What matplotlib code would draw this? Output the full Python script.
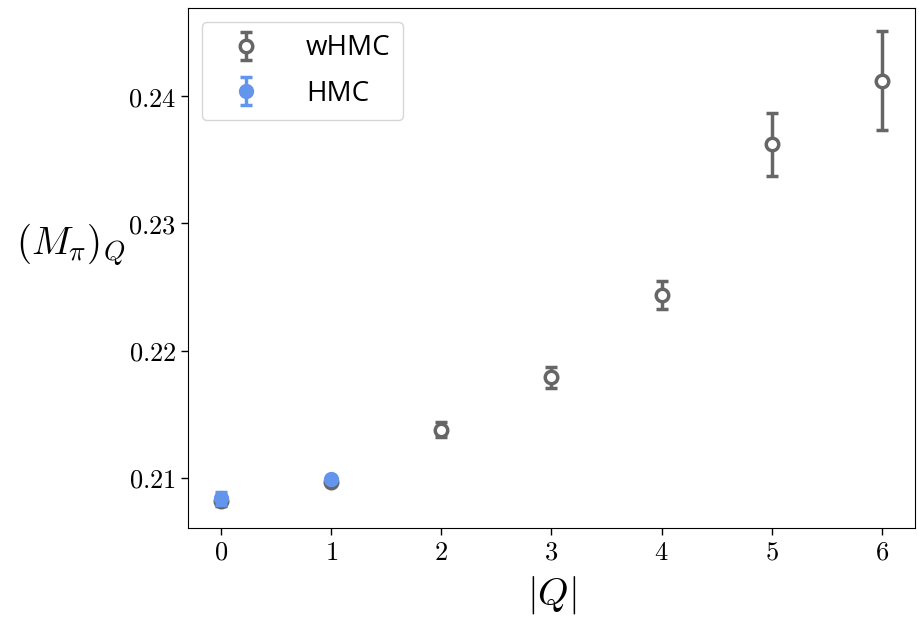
import matplotlib
matplotlib.use("Agg")
import matplotlib.pyplot as plt

plt.rcParams["mathtext.fontset"] = "cm"

# Topological charge sectors and pion mass per sector
q_whmc = [0, 1, 2, 3, 4, 5, 6]
m_whmc = [0.2082, 0.2097, 0.2138, 0.2179, 0.2244, 0.2362, 0.2412]
e_whmc = [0.0004, 0.0002, 0.0006, 0.0008, 0.0011, 0.0025, 0.0039]

q_hmc = [0, 1]
m_hmc = [0.2084, 0.2099]
e_hmc = [0.0005, 0.0002]

x_ticks = [0, 1, 2, 3, 4, 5, 6]
y_ticks = [0.21, 0.22, 0.23, 0.24]

gray = "#666666"
blue = "#6495ED"

fig = plt.figure(figsize=(9.19, 6.18), dpi=100)
ax = fig.add_axes([0.2046, 0.1456, 0.791, 0.8414])

ax.errorbar(q_whmc, m_whmc, yerr=e_whmc, fmt="o", color=gray, mfc="white",
            mec=gray, ms=9, mew=2.5, elinewidth=2.5, capsize=4, capthick=2.5,
            label="wHMC", zorder=2)
ax.errorbar(q_hmc, m_hmc, yerr=e_hmc, fmt="o", color=blue, mfc=blue,
            mec=blue, ms=10, elinewidth=2.5, capsize=4, capthick=2.5,
            label="HMC", zorder=3)

ax.set_xlim(-0.3, 6.3)
ax.set_ylim(0.20607, 0.24692)
ax.set_xticks(x_ticks)
ax.set_xticklabels([f"${t}$" for t in x_ticks], fontsize=19)
ax.set_yticks(y_ticks)
ax.set_yticklabels([f"${t:.2f}$" for t in y_ticks], fontsize=19)
ax.tick_params(direction="out", length=5, width=1)

ax.set_xlabel(r"$|Q|$", fontsize=28, labelpad=6)
ax.set_ylabel(r"$(M_\pi)_Q$", fontsize=28, rotation=0, ha="right", va="center")
ax.yaxis.set_label_coords(-0.085, 0.545)

leg = ax.legend(loc="upper left", prop={"family": "Open Sans", "size": 20},
                handlelength=2.3, handletextpad=1.0, borderpad=0.45,
                labelspacing=0.62, borderaxespad=0.5,
                frameon=True, framealpha=0.8)

fig.savefig("out.png", dpi=100)
